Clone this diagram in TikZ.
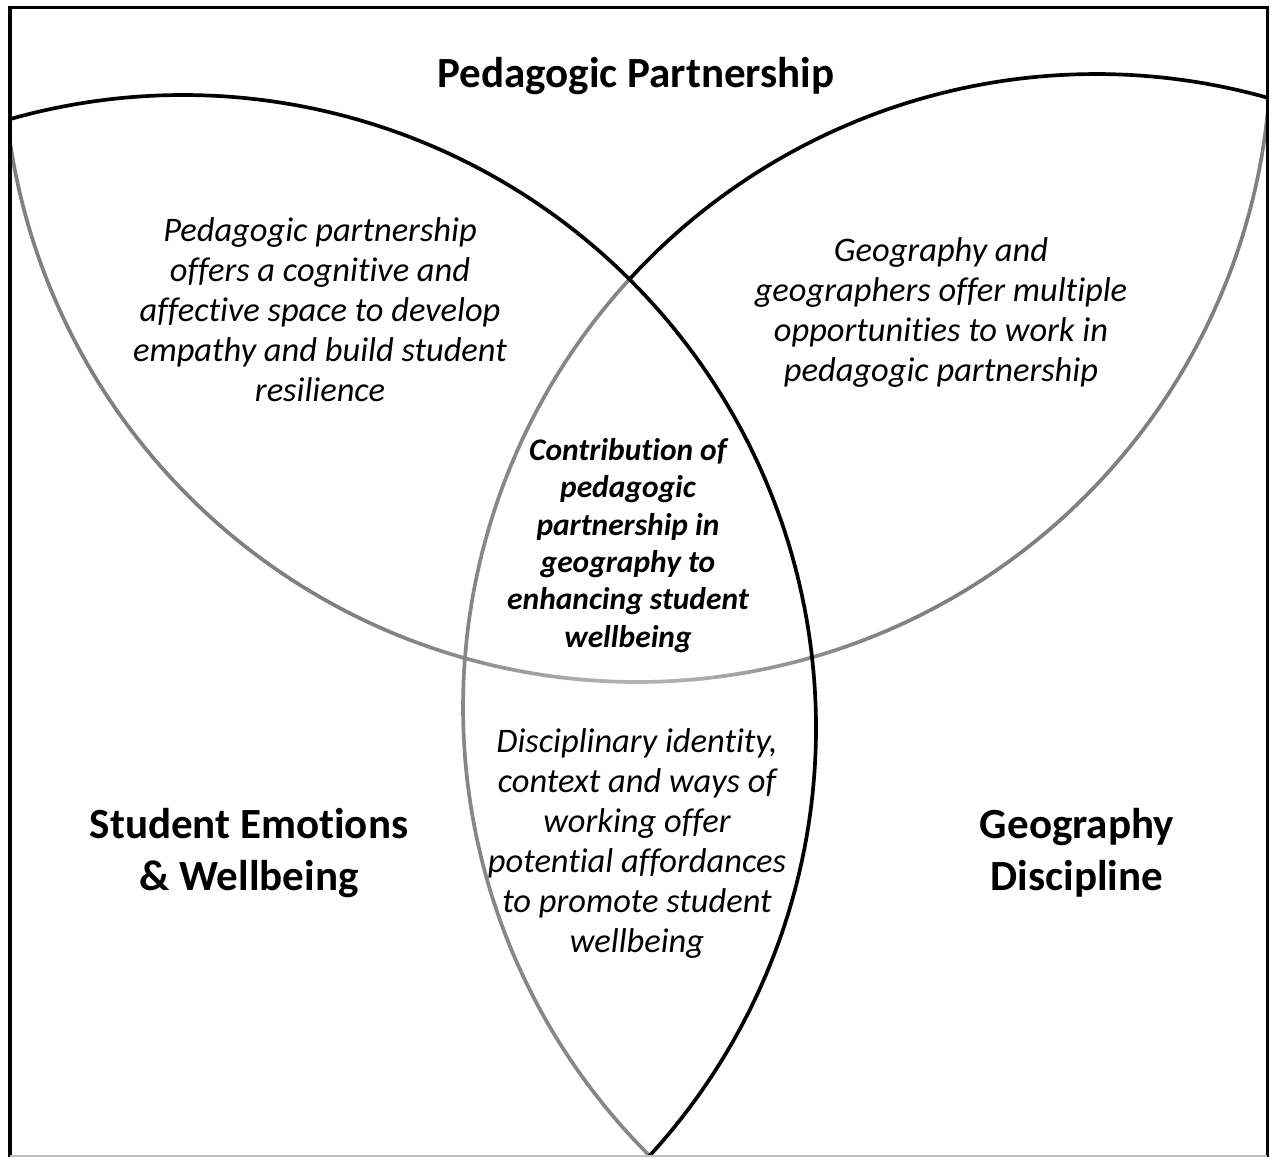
\documentclass[tikz,border=0pt]{standalone}
\usepackage{fontspec}
\setmainfont{Carlito}[Ligatures=NoCommon]
\begin{document}
\begin{tikzpicture}[x=0.02cm,y=-0.02cm,
  arcline/.style={line width=2.1pt, line cap=round},
  bigbold/.style={font=\fontsize{24.5}{29.5}\selectfont\bfseries, align=center, anchor=base},
  itext/.style={font=\fontsize{19.6}{22.8}\selectfont\itshape, align=center, anchor=base},
  ctext/.style={font=\fontsize{17.9}{21.3}\selectfont\bfseries\itshape, align=center, anchor=base}]
\useasboundingbox (0,0) rectangle (1270,1157);
\fill[white] (0,0) rectangle (1270,1157);
\begin{scope}
  \clip (10,8) rectangle (1267,1156);
  % Pedagogic Partnership circle (top), lower arc with gradient
  \foreach \a in {0,...,179} {
    \pgfmathsetmacro\b{\a+1}
    \pgfmathsetmacro\k{50-20*exp(-((\a+0.5-90)/14)*((\a+0.5-90)/14))}
    \draw[arcline, color=black!\k] ({637+634*cos(\a)},{48+634*sin(\a)}) -- ({637+634*cos(\b)},{48+634*sin(\b)});
  }
  % Geography circle (right): gray lower part, black upper part
  \draw[arcline, color=black!47] plot[domain=-230:-137.5, samples=93] ({1096+633*cos(\x)},{707+633*sin(\x)});
  \draw[arcline, black] plot[domain=-137.5:-68, samples=70] ({1096+633*cos(\x)},{707+633*sin(\x)});
  % Student emotions circle (left): black
  \draw[arcline, black] plot[domain=-112:50, samples=163] ({183+633*cos(\x)},{728+633*sin(\x)});
\end{scope}
% frame
\draw[line width=2.3pt] (10,6) -- (10,1157);
\draw[line width=1.8pt] (9,7.5) -- (1268,7.5);
\draw[line width=1.3pt] (1267.5,6) -- (1267.5,1157);
\draw[line width=0.8pt, black!25] (10,1156) -- (1267,1156);
% texts (anchor base = baseline of the last line)
\node[bigbold] (title) at (636,87) {Pedagogic Partnership};
\node[bigbold] (sew) at (249,890) {Student Emotions\\\& Wellbeing};
\node[bigbold] (geo) at (1077,890) {Geography\\Discipline};
\node[itext] (ps) at (320,401.7) {Pedagogic partnership\\offers a cognitive and\\affective space to develop\\empathy and build student\\resilience};
\node[itext] (pg) at (941,381.7) {Geography and\\geographers offer multiple\\opportunities to work in\\pedagogic partnership};
\node[ctext] (all) at (628,647.3) {Contribution of\\pedagogic\\partnership in\\geography to\\enhancing student\\wellbeing};
\node[itext] (sg) at (637,952.7) {Disciplinary identity,\\context and ways of\\working offer\\potential affordances\\to promote student\\wellbeing};
\end{tikzpicture}
\end{document}
